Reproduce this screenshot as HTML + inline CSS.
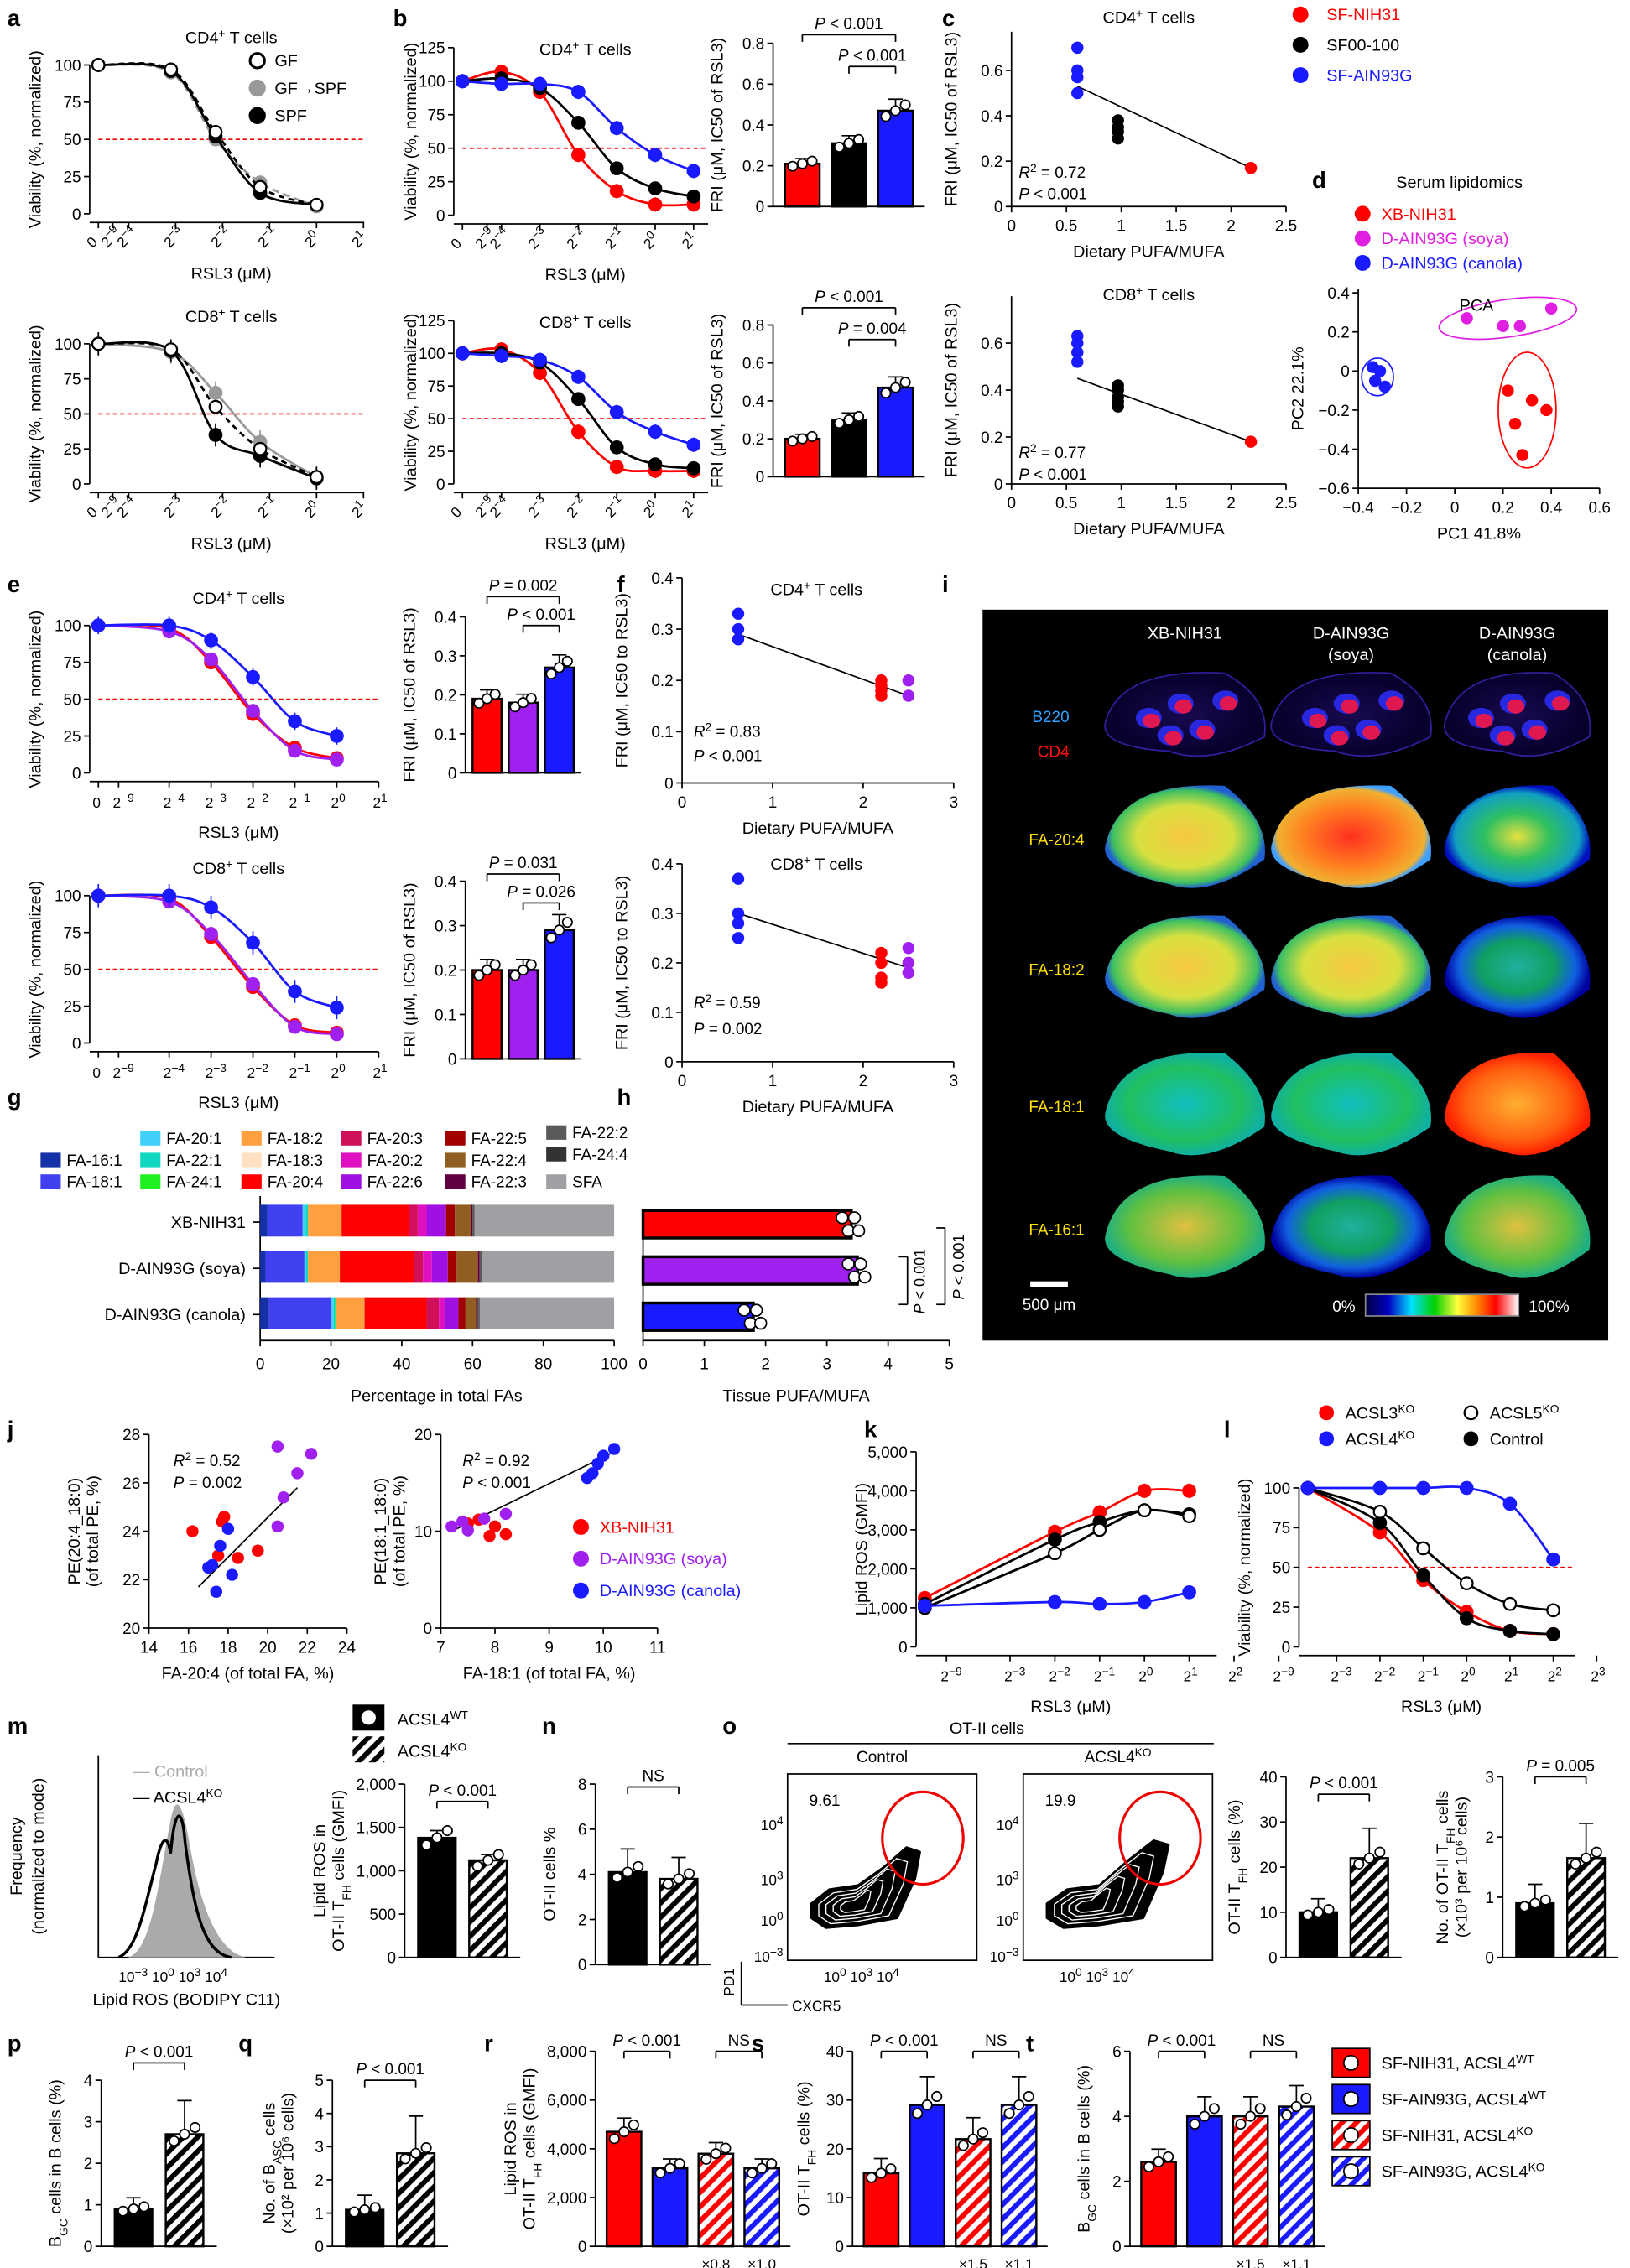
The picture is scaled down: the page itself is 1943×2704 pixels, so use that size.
<!DOCTYPE html>
<html><head><meta charset="utf-8"><title>Figure</title>
<style>
html,body{margin:0;padding:0;background:#fff;}
svg{display:block;font-family:"Liberation Sans",Arial,sans-serif;}
</style></head>
<body>
<svg id="fig" xmlns="http://www.w3.org/2000/svg" width="1943" height="2704" viewBox="0 0 1128 1570">
<defs>
<pattern id="hk" patternUnits="userSpaceOnUse" width="7" height="7" patternTransform="rotate(45)"><rect width="7" height="7" fill="#fff"/><rect width="3.5" height="7" fill="#000"/></pattern>
<pattern id="hr" patternUnits="userSpaceOnUse" width="7" height="7" patternTransform="rotate(45)"><rect width="7" height="7" fill="#fff"/><rect width="3.5" height="7" fill="#f00"/></pattern>
<pattern id="hb" patternUnits="userSpaceOnUse" width="7" height="7" patternTransform="rotate(45)"><rect width="7" height="7" fill="#fff"/><rect width="3.5" height="7" fill="#1a1aff"/></pattern>
<linearGradient id="cbar" x1="0" x2="1"><stop offset="0" stop-color="#000040"/><stop offset="0.15" stop-color="#0000c0"/><stop offset="0.3" stop-color="#00e0ff"/><stop offset="0.45" stop-color="#00d000"/><stop offset="0.6" stop-color="#ffff40"/><stop offset="0.72" stop-color="#ff9000"/><stop offset="0.85" stop-color="#ff0000"/><stop offset="1" stop-color="#ffffff"/></linearGradient>
<radialGradient id="gY"><stop offset="0" stop-color="#f7c840"/><stop offset="0.6" stop-color="#d8e040"/><stop offset="0.9" stop-color="#40c060"/><stop offset="1" stop-color="#2060d0"/></radialGradient>
<radialGradient id="gR"><stop offset="0" stop-color="#ff3020"/><stop offset="0.6" stop-color="#ff8020"/><stop offset="0.92" stop-color="#f0b030"/><stop offset="1" stop-color="#40a0ff"/></radialGradient>
<radialGradient id="gB"><stop offset="0" stop-color="#e8e040"/><stop offset="0.45" stop-color="#30c060"/><stop offset="0.85" stop-color="#10a0c0"/><stop offset="1" stop-color="#0010c0"/></radialGradient>
<radialGradient id="gB2"><stop offset="0" stop-color="#20b0a0"/><stop offset="0.5" stop-color="#10a060"/><stop offset="0.8" stop-color="#1060e0"/><stop offset="1" stop-color="#0000a0"/></radialGradient>
<radialGradient id="gG"><stop offset="0" stop-color="#10c0c0"/><stop offset="0.7" stop-color="#20c060"/><stop offset="1" stop-color="#10b0a0"/></radialGradient>
<radialGradient id="gO"><stop offset="0" stop-color="#ffb030"/><stop offset="0.7" stop-color="#ff6010"/><stop offset="1" stop-color="#ff2000"/></radialGradient>
<radialGradient id="gGY"><stop offset="0" stop-color="#e0c040"/><stop offset="0.7" stop-color="#60c040"/><stop offset="1" stop-color="#20b080"/></radialGradient>
<radialGradient id="gD"><stop offset="0" stop-color="#180a50"/><stop offset="1" stop-color="#06002a"/></radialGradient>
</defs>
</svg>
<script>
// ---------- DATA ----------
const aDose=[-99,-3.1,-2.15,-1.2,0];
const aTopGF=[100,97,55,18,6];
const aTopGFS=[100,95,50,21,5];
const aTopSPF=[100,96,52,14,6];
const aBotGF=[100,96,55,25,5];
const aBotGFS=[100,94,65,30,5];
const aBotSPF=[100,95,35,20,4];
const bDose=[-99,-4,-3,-2,-1,0,1];
const bTopRed=[100,107,92,45,18,8,8];
const bTopBlack=[100,102,95,69,35,20,14];
const bTopBlue=[100,98,98,92,65,45,33];
const bBotRed=[100,103,85,40,13,10,10];
const bBotBlack=[100,100,93,65,28,15,12];
const bBotBlue=[100,98,95,82,55,40,30];
const bBarTop=[0.21,0.31,0.47];
const bBarBot=[0.2,0.3,0.47];
const cX=[0.6,0.97,2.18];
const cTopBlue=[0.7,0.6,0.57,0.5];
const cTopBlack=[0.38,0.35,0.33,0.3];
const cTopRed=[0.17];
const cBotBlue=[0.63,0.6,0.56,0.52];
const cBotBlack=[0.42,0.4,0.37,0.35,0.33];
const cBotRed=[0.18];
const dRedX=[0.22,0.32,0.38,0.25,0.28];
const dRedY=[-0.1,-0.15,-0.2,-0.27,-0.43];
const dMagX=[0.05,0.2,0.27,0.4];
const dMagY=[0.27,0.23,0.23,0.32];
const dBlueX=[-0.34,-0.31,-0.33,-0.29];
const dBlueY=[0.02,0,-0.05,-0.08];
const eDose=[-99,-4,-3,-2,-1,0];
const eTopRed=[100,98,75,40,17,10];
const eTopPur=[100,96,77,42,15,9];
const eTopBlue=[100,100,90,65,35,25];
const eBotRed=[100,98,72,38,12,7];
const eBotPur=[100,96,74,40,11,6];
const eBotBlue=[100,100,92,68,35,24];
const eBarTop=[0.19,0.18,0.27];
const eBarBot=[0.2,0.2,0.29];
const fX=[0.62,2.2,2.5];
const fTopBlue=[0.33,0.3,0.28];
const fTopRed=[0.2,0.19,0.18,0.17];
const fTopPur=[0.2,0.17];
const fBotBlue=[0.37,0.3,0.28,0.25];
const fBotRed=[0.22,0.2,0.17,0.16];
const fBotPur=[0.23,0.2,0.18];
const gCats=['XB-NIH31','D-AIN93G (soya)','D-AIN93G (canola)'];
const gFAs=['FA-16:1','FA-18:1','FA-20:1','FA-22:1','FA-24:1','FA-18:2','FA-18:3','FA-20:4','FA-20:3','FA-20:2','FA-22:6','FA-22:5','FA-22:4','FA-22:3','FA-22:2','FA-24:4','SFA'];
const gColors=['#1431a8','#4040f0','#40d0f8','#10d8c0','#20f020','#ffa040','#ffe0c0','#ff0000','#d0105a','#e010c0','#a010e0','#a00000','#905e20','#600040','#5a5a5a','#333333','#a0a0a4'];
const gXB=[2,10,0.8,0.7,0,9.5,0,19,2.5,2.5,5.5,2.5,4.5,0.5,0.3,0.2,39.5];
const gSoya=[1.5,11,0.5,0.5,0,9,0,21,2.5,2.5,4.5,2.5,6,0.5,0.3,0.2,37.5];
const gCanola=[2.5,17.5,0.8,0.4,0.3,8,0,17.5,3.5,1.5,4,2,3,0.5,0.3,0.2,38];
const hVals=[3.4,3.5,1.8];
const jLRedX=[16.2,17.5,17.8,18.5,19.5,17.7];
const jLRedY=[24,23,24.6,22.9,23.2,24.4];
const jLPurX=[20.5,22.2,20.5,20.8,21.5];
const jLPurY=[27.5,27.2,24.2,25.4,26.4];
const jLBlueX=[17,17.2,17.6,18.2,17.4,18];
const jLBlueY=[22.5,22.6,23.4,22.2,21.5,24.1];
const jRRedX=[7.7,8,8.2,7.9,7.5];
const jRRedY=[11.2,10.5,9.7,9.5,10.8];
const jRPurX=[7.2,7.8,8.2,7.5,7.4];
const jRPurY=[10.5,11.3,11.8,10.1,11];
const jRBlueX=[9.8,9.9,10.2,10,9.7];
const jRBlueY=[16,17,18.5,17.8,15.5];
const kDose=[-99,-2,-1,0,1];
const kRed=[1250,2950,3450,4000,4000];
const kBlack=[1100,2750,3200,3500,3400];
const kWhite=[1000,2400,3000,3500,3350];
const kBlue=[1050,1150,1100,1150,1400];
const lDose=[-99,-2,-1,0,1,2];
const lRed=[100,72,42,22,10,8];
const lBlack=[100,78,45,18,10,8];
const lWhite=[100,85,62,40,27,23];
const lBlue=[100,100,100,100,90,55];
const mBar=[1380,1120];
const nBar=[4.1,3.8];
const oBar1=[10,22];
const oBar2=[0.9,1.65];
const pBar=[0.9,2.7];
const qBar=[1.1,2.8];
const rBar=[4700,3200,3800,3200];
const sBar=[15,29,22,29];
const tBar=[2.6,4.0,4.0,4.3];

// ---------- HELPERS ----------
const NS='http://www.w3.org/2000/svg';
const svg=document.getElementById('fig');
function el(tag,attrs,name,parent,txt){
  const e=document.createElementNS(NS,tag);
  for(const k in attrs) e.setAttribute(k,attrs[k]);
  
  
  if(txt!==undefined){ if(String(txt).indexOf('<')>=0) e.innerHTML=txt; else e.textContent=txt; }
  (parent||svg).appendChild(e); return e;
}
function T(x,y,s,name,o){o=o||{};const a={x:x,y:y,'font-size':o.fs||11,fill:o.fill||'#000'};
  if(o.anchor)a['text-anchor']=o.anchor; if(o.bold)a['font-weight']='bold'; if(o.rot)a.transform='rotate('+o.rot+' '+x+' '+y+')';
  return el('text',a,name,null,s);}
function L(x1,y1,x2,y2,name,o){o=o||{};return el('line',{x1:x1,y1:y1,x2:x2,y2:y2,stroke:o.c||'#000','stroke-width':o.w||1,'stroke-dasharray':o.d||'none'},name);}
function sup(b,e){return b+'<tspan baseline-shift="super" font-size="8">'+e+'</tspan>';}
function smooth(pts){let d='M'+pts[0][0]+','+pts[0][1];
  for(let i=0;i<pts.length-1;i++){const p0=pts[i-1]||pts[i],p1=pts[i],p2=pts[i+1],p3=pts[i+2]||p2;
    d+=' C'+(p1[0]+(p2[0]-p0[0])/6)+','+(p1[1]+(p2[1]-p0[1])/6)+' '+(p2[0]-(p3[0]-p1[0])/6)+','+(p2[1]-(p3[1]-p1[1])/6)+' '+p2[0]+','+p2[1];}
  return d;}
function letter(s,x,y){T(x,y,s,'panel-label-'+s,{fs:16,bold:true});}

function curve(c){
  const px=v=>v<-50?c.x0:(v<=-9?c.xm9:(v<=-4?c.xm9+(v+9)/5*(c.xm4-c.xm9):c.xm4+(v+4)*c.step));
  const py=v=>c.yb-(v/c.ymax)*(c.yb-c.yt);
  L(c.x0-6,c.yb,c.x0-6,c.yt,c.n+'-y-axis');
  c.yticks.forEach(t=>{L(c.x0-10,py(t),c.x0-6,py(t),c.n+'-y-tick');T(c.x0-12,py(t)+4,t.toLocaleString('en-US'),c.n+'-y-tick-label',{anchor:'end'});});
  L(c.x0-6,c.yb+6,c.x1,c.yb+6,c.n+'-x-axis');
  c.xticks.forEach(t=>{const x=px(t);L(x,c.yb+6,x,c.yb+10,c.n+'-x-tick');
    const lab=t<-50?'0':sup('2',t>=0?t:'−'+(-t));
    T(x-4,c.yb+24,lab,c.n+'-x-tick-label',{fs:10,rot:c.rot||0});});
  if(c.ref) L(c.x0,py(50),c.x1,py(50),c.n+'-threshold-50',{c:'#e00',d:'3,2'});
  c.series.forEach(s=>{
    const pts=c.dose.map((d,i)=>[px(d),py(s.v[i])]);
    el('path',{d:smooth(pts),fill:'none',stroke:s.lc||s.c,'stroke-width':1.6,'stroke-dasharray':s.d||'none'},c.n+'-fit-'+s.k);
    pts.forEach(p=>{if(s.e)L(p[0],p[1]-s.e,p[0],p[1]+s.e,c.n+'-error-bar',{c:s.c});
      el('circle',{cx:p[0],cy:p[1],r:4.2,fill:s.f||s.c,stroke:s.c,'stroke-width':1.3},c.n+'-point-'+s.k);});
  });
  T((c.x0+c.x1)/2,c.yb+45,c.xt,c.n+'-x-title',{anchor:'middle',fs:11.5});
  T(c.x0-(c.yo||40),(c.yt+c.yb)/2,c.yt2||'Viability (%, normalized)',c.n+'-y-title',{anchor:'middle',fs:11.5,rot:-90});
  if(c.title)T((c.x0+c.x1)/2,c.yt-(c.tg||15),c.title,c.n+'-title',{anchor:'middle',fs:11.5});
}
function bars(c){
  const sy=v=>c.yb-(v/c.max)*(c.yb-c.yt);
  L(c.x,c.yb,c.x,c.yt,c.n+'-y-axis');
  c.ticks.forEach(t=>{L(c.x-4,sy(t),c.x,sy(t),c.n+'-y-tick');T(c.x-6,sy(t)+4,c.tl?c.tl(t):t.toLocaleString('en-US'),c.n+'-y-tick-label',{anchor:'end'});});
  L(c.x,c.yb,c.x+c.w,c.yb,c.n+'-x-axis');
  const n=c.vals.length,bw=c.bw,gap=(c.w-n*bw)/(n+1);
  const cx=[];
  c.vals.forEach((v,i)=>{const bx=c.x+gap+(bw+gap)*i;cx.push(bx+bw/2);
    el('rect',{x:bx,y:sy(v),width:bw,height:c.yb-sy(v),fill:c.fills[i],stroke:'#000','stroke-width':1.4},c.n+'-bar-'+i);
    const e=v*(c.err||0.12);
    L(bx+bw/2,sy(v),bx+bw/2,sy(v+e),c.n+'-error-bar');L(bx+bw/2-5,sy(v+e),bx+bw/2+5,sy(v+e),c.n+'-error-cap');
    [-0.28,0,0.28].forEach((o,j)=>el('circle',{cx:bx+bw/2+o*bw,cy:sy(v*(1-0.06+j*0.06)),r:3.3,fill:'#fff',stroke:'#000','stroke-width':1},c.n+'-point'));
  });
  (c.sig||[]).forEach(s=>{const y=s[2];L(cx[s[0]],y+5,cx[s[0]],y,c.n+'-sig-bracket');L(cx[s[0]],y,cx[s[1]],y,c.n+'-sig-bracket');L(cx[s[1]],y,cx[s[1]],y+5,c.n+'-sig-bracket');
    T((cx[s[0]]+cx[s[1]])/2,y-4,s[3],c.n+'-sig-label',{anchor:'middle'});});
  (c.yl||[]).forEach((s,i)=>T(c.x-c.yo+i*13,(c.yt+c.yb)/2,s,c.n+'-y-title',{anchor:'middle',fs:11.5,rot:-90}));
  (c.xl||[]).forEach((s,i)=>T(c.x+gap+bw/2+(bw+gap)*(i+2),c.yb+16,s,c.n+'-x-note',{anchor:'middle',fs:10}));
}
function scat(c){
  const sx=v=>c.x0+(v-c.xmin)/(c.xmax-c.xmin)*(c.x1-c.x0);
  const sy=v=>c.yb-(v-c.ymin)/(c.ymax-c.ymin)*(c.yb-c.yt);
  L(c.x0,c.yb,c.x0,c.yt,c.n+'-y-axis');L(c.x0,c.yb,c.x1,c.yb,c.n+'-x-axis');
  c.yticks.forEach(t=>{L(c.x0-4,sy(t),c.x0,sy(t),c.n+'-y-tick');T(c.x0-6,sy(t)+4,String(t).replace('-','−'),c.n+'-y-tick-label',{anchor:'end'});});
  c.xticks.forEach(t=>{L(sx(t),c.yb,sx(t),c.yb+4,c.n+'-x-tick');T(sx(t),c.yb+17,String(t).replace('-','−'),c.n+'-x-tick-label',{anchor:'middle'});});
  if(c.line)L(sx(c.line[0]),sy(c.line[1]),sx(c.line[2]),sy(c.line[3]),c.n+'-regression-line');
  c.groups.forEach(g=>g.xs.forEach((x,i)=>el('circle',{cx:sx(x),cy:sy(g.ys[i]),r:4.2,fill:g.c},c.n+'-point-'+g.k)));
  if(c.xt)T((c.x0+c.x1)/2,c.yb+35,c.xt,c.n+'-x-title',{anchor:'middle',fs:11.5});
  (c.ytl||[]).forEach((s,i)=>T(c.x0-c.yo+i*13,(c.yt+c.yb)/2,s,c.n+'-y-title',{anchor:'middle',fs:11.5,rot:-90}));
  return {sx:sx,sy:sy};
}
const RED='#ff0000',BLU='#1a1aff',PUR='#a020f0',BLK='#000';

// ---------- PANEL a ----------
letter('a',5,18);letter('b',272,18);letter('c',652,18);letter('d',908,130);
const aTicks=[-99,-9,-4,-3,-2,-1,0,1];
curve({n:'a-top',x0:68,x1:252,xm9:78,xm4:89,step:32.5,yt:45,yb:148,ymax:100,yticks:[0,25,50,75,100],xticks:aTicks,rot:-45,dose:aDose,ref:true,
  series:[{k:'gf-spf',v:aTopGFS,c:'#999',lc:'#999',d:'5,3'},{k:'spf',v:aTopSPF,c:BLK},{k:'gf',v:aTopGF,c:BLK,f:'#fff',d:'4,3'}],xt:'RSL3 (μM)',title:sup('CD4','+')+' T cells'});
curve({n:'a-bottom',x0:68,x1:252,xm9:78,xm4:89,step:32.5,yt:238,yb:335,ymax:100,yticks:[0,25,50,75,100],xticks:aTicks,rot:-45,dose:aDose,ref:true,
  series:[{k:'gf-spf',v:aBotGFS,c:'#999',lc:'#999',e:8},{k:'spf',v:aBotSPF,c:BLK,e:8},{k:'gf',v:aBotGF,c:BLK,f:'#fff',d:'4,3'}],xt:'RSL3 (μM)',title:sup('CD8','+')+' T cells'});
[['GF','#fff',BLK],['GF→SPF','#999','#999'],['SPF',BLK,BLK]].forEach((g,i)=>{el('circle',{cx:178,cy:42+i*19,r:5,fill:g[1],stroke:g[2],'stroke-width':1.8},'a-legend-marker');T(190,46+i*19,g[0],'a-legend-label',{fs:11.5});});

// ---------- PANEL b ----------
const bTicks=[-99,-9,-4,-3,-2,-1,0,1];
curve({n:'b-top',x0:320,x1:490,xm9:337,xm4:347,step:26.6,yt:33,yb:149,ymax:125,yticks:[0,25,50,75,100,125],xticks:bTicks,rot:-45,dose:bDose,ref:true,yo:32,tg:-5,
  series:[{k:'red',v:bTopRed,c:RED,e:5},{k:'black',v:bTopBlack,c:BLK,e:4},{k:'blue',v:bTopBlue,c:BLU,e:5}],xt:'RSL3 (μM)',title:sup('CD4','+')+' T cells'});
curve({n:'b-bottom',x0:320,x1:490,xm9:337,xm4:347,step:26.6,yt:222,yb:335,ymax:125,yticks:[0,25,50,75,100,125],xticks:bTicks,rot:-45,dose:bDose,ref:true,yo:32,tg:-5,
  series:[{k:'red',v:bBotRed,c:RED,e:5},{k:'black',v:bBotBlack,c:BLK,e:4},{k:'blue',v:bBotBlue,c:BLU,e:5}],xt:'RSL3 (μM)',title:sup('CD8','+')+' T cells'});
bars({n:'b-bar-top',x:535,w:105,yt:30,yb:143,max:0.8,ticks:[0,0.2,0.4,0.6,0.8],tl:t=>t===0?'0':t.toFixed(1),vals:bBarTop,fills:[RED,BLK,BLU],bw:24,
  sig:[[0,2,24,'<tspan font-style="italic">P</tspan> &lt; 0.001'],[1,2,46,'<tspan font-style="italic">P</tspan> &lt; 0.001']],yl:['FRI (μM, IC50 of RSL3)'],yo:35});
bars({n:'b-bar-bottom',x:535,w:105,yt:225,yb:330,max:0.8,ticks:[0,0.2,0.4,0.6,0.8],tl:t=>t===0?'0':t.toFixed(1),vals:bBarBot,fills:[RED,BLK,BLU],bw:24,
  sig:[[0,2,213,'<tspan font-style="italic">P</tspan> &lt; 0.001'],[1,2,235,'<tspan font-style="italic">P</tspan> = 0.004']],yl:['FRI (μM, IC50 of RSL3)'],yo:35});

// ---------- PANEL c ----------
function cGroups(b,k,r){return [{k:'blue',xs:b.map(()=>cX[0]),ys:b,c:BLU},{k:'black',xs:k.map(()=>cX[1]),ys:k,c:BLK},{k:'red',xs:r.map(()=>cX[2]),ys:r,c:RED}];}
scat({n:'c-top',x0:700,x1:890,xmin:0,xmax:2.5,yt:22,yb:143,ymin:0,ymax:0.77,yticks:[0,0.2,0.4,0.6],xticks:[0,0.5,1,1.5,2,2.5],groups:cGroups(cTopBlue,cTopBlack,cTopRed),line:[0.6,0.53,2.18,0.17],xt:'Dietary PUFA/MUFA',ytl:['FRI (μM, IC50 of RSL3)'],yo:38});
scat({n:'c-bottom',x0:700,x1:890,xmin:0,xmax:2.5,yt:205,yb:335,ymin:0,ymax:0.8,yticks:[0,0.2,0.4,0.6],xticks:[0,0.5,1,1.5,2,2.5],groups:cGroups(cBotBlue,cBotBlack,cBotRed),line:[0.6,0.45,2.18,0.18],xt:'Dietary PUFA/MUFA',ytl:['FRI (μM, IC50 of RSL3)'],yo:38});
T(795,16,sup('CD4','+')+' T cells','c-top-title',{anchor:'middle',fs:11.5});T(795,208,sup('CD8','+')+' T cells','c-bottom-title',{anchor:'middle',fs:11.5});
T(705,123,sup('<tspan font-style="italic">R</tspan>','2')+' = 0.72','c-top-r2');T(705,138,'<tspan font-style="italic">P</tspan> &lt; 0.001','c-top-p');
T(705,317,sup('<tspan font-style="italic">R</tspan>','2')+' = 0.77','c-bottom-r2');T(705,332,'<tspan font-style="italic">P</tspan> &lt; 0.001','c-bottom-p');
[['SF-NIH31',RED],['SF00-100',BLK],['SF-AIN93G',BLU]].forEach((g,i)=>{el('circle',{cx:900,cy:10+i*21,r:5.5,fill:g[1]},'c-legend-marker');T(918,14+i*21,g[0],'c-legend-label',{fs:11.5,fill:g[1]});});

// ---------- PANEL d ----------
T(1010,130,'Serum lipidomics','d-title',{anchor:'middle',fs:11.5});
[['XB-NIH31',RED],['D-AIN93G (soya)','#e020e0'],['D-AIN93G (canola)',BLU]].forEach((g,i)=>{el('circle',{cx:943,cy:148+i*17,r:5.5,fill:g[1]},'d-legend-marker');T(956,152+i*17,g[0],'d-legend-label',{fs:11.5,fill:g[1]});});
const dS=scat({n:'d-pca',x0:940,x1:1107,xmin:-0.4,xmax:0.6,yt:200,yb:338,ymin:-0.6,ymax:0.42,yticks:[-0.6,-0.4,-0.2,0,0.2,0.4],xticks:[-0.4,-0.2,0,0.2,0.4,0.6],
  groups:[{k:'red',xs:dRedX,ys:dRedY,c:RED},{k:'magenta',xs:dMagX,ys:dMagY,c:'#e020e0'},{k:'blue',xs:dBlueX,ys:dBlueY,c:BLU}],xt:'PC1 41.8%',ytl:['PC2 22.1%'],yo:38});
el('ellipse',{cx:dS.sx(-0.32),cy:dS.sy(-0.03),rx:11,ry:13,fill:'none',stroke:BLU},'d-cluster-canola');
el('ellipse',{cx:dS.sx(0.22),cy:dS.sy(0.27),rx:48,ry:13,fill:'none',stroke:'#e020e0',transform:'rotate(-8 '+dS.sx(0.22)+' '+dS.sy(0.27)+')'},'d-cluster-soya');
el('ellipse',{cx:dS.sx(0.3),cy:dS.sy(-0.2),rx:20,ry:40,fill:'none',stroke:RED},'d-cluster-nih31');
T(1010,215,'PCA','d-pca-label',{fs:11.5});

// ---------- PANEL e ----------
letter('e',5,410);letter('f',427,410);letter('i',652,410);
const eTicks=[-99,-9,-4,-3,-2,-1,0,1];
curve({n:'e-top',x0:68,x1:262,xm9:82,xm4:117,step:29,yt:433,yb:535,ymax:100,yticks:[0,25,50,75,100],xticks:eTicks,dose:eDose,ref:true,
  series:[{k:'red',v:eTopRed,c:RED,e:4},{k:'purple',v:eTopPur,c:PUR,e:4},{k:'blue',v:eTopBlue,c:BLU,e:6}],xt:'RSL3 (μM)',title:sup('CD4','+')+' T cells'});
curve({n:'e-bottom',x0:68,x1:262,xm9:82,xm4:117,step:29,yt:620,yb:722,ymax:100,yticks:[0,25,50,75,100],xticks:eTicks,dose:eDose,ref:true,
  series:[{k:'red',v:eBotRed,c:RED,e:4},{k:'purple',v:eBotPur,c:PUR,e:4},{k:'blue',v:eBotBlue,c:BLU,e:8}],xt:'RSL3 (μM)',title:sup('CD8','+')+' T cells'});
bars({n:'e-bar-top',x:322,w:80,yt:427,yb:535,max:0.4,ticks:[0,0.1,0.2,0.3,0.4],tl:t=>t===0?'0':t.toFixed(1),vals:eBarTop,fills:[RED,PUR,BLU],bw:20,
  sig:[[0,2,413,'<tspan font-style="italic">P</tspan> = 0.002'],[1,2,433,'<tspan font-style="italic">P</tspan> &lt; 0.001']],yl:['FRI (μM, IC50 of RSL3)'],yo:35});
bars({n:'e-bar-bottom',x:322,w:80,yt:610,yb:733,max:0.4,ticks:[0,0.1,0.2,0.3,0.4],tl:t=>t===0?'0':t.toFixed(1),vals:eBarBot,fills:[RED,PUR,BLU],bw:20,
  sig:[[0,2,605,'<tspan font-style="italic">P</tspan> = 0.031'],[1,2,625,'<tspan font-style="italic">P</tspan> = 0.026']],yl:['FRI (μM, IC50 of RSL3)'],yo:35});

// ---------- PANEL f ----------
function fG(b,r,p){return [{k:'blue',xs:b.map(()=>fX[0]),ys:b,c:BLU},{k:'red',xs:r.map(()=>fX[1]),ys:r,c:RED},{k:'purple',xs:p.map(()=>fX[2]),ys:p,c:PUR}];}
scat({n:'f-top',x0:472,x1:660,xmin:0,xmax:3,yt:400,yb:542,ymin:0,ymax:0.4,yticks:[0,0.1,0.2,0.3,0.4],xticks:[0,1,2,3],groups:fG(fTopBlue,fTopRed,fTopPur),line:[0.62,0.29,2.5,0.17],xt:'Dietary PUFA/MUFA',ytl:['FRI (μM, IC50 to RSL3)'],yo:38});
scat({n:'f-bottom',x0:472,x1:660,xmin:0,xmax:3,yt:598,yb:735,ymin:0,ymax:0.4,yticks:[0,0.1,0.2,0.3,0.4],xticks:[0,1,2,3],groups:fG(fBotBlue,fBotRed,fBotPur),line:[0.62,0.3,2.5,0.19],xt:'Dietary PUFA/MUFA',ytl:['FRI (μM, IC50 to RSL3)'],yo:38});
T(565,412,sup('CD4','+')+' T cells','f-top-title',{anchor:'middle',fs:11.5});T(565,602,sup('CD8','+')+' T cells','f-bottom-title',{anchor:'middle',fs:11.5});
T(480,510,sup('<tspan font-style="italic">R</tspan>','2')+' = 0.83','f-top-r2');T(480,527,'<tspan font-style="italic">P</tspan> &lt; 0.001','f-top-p');
T(480,698,sup('<tspan font-style="italic">R</tspan>','2')+' = 0.59','f-bottom-r2');T(480,716,'<tspan font-style="italic">P</tspan> = 0.002','f-bottom-p');

// ---------- PANEL i ----------
el('rect',{x:680,y:422,width:433,height:506,fill:'#000'},'i-imaging-background');
[['XB-NIH31',820],['D-AIN93G',935],['D-AIN93G',1050]].forEach((c,i)=>T(c[1],442,c[0],'i-column-header',{anchor:'middle',fill:'#fff',fs:11.5}));
T(935,457,'(soya)','i-column-header-sub',{anchor:'middle',fill:'#fff',fs:11.5});T(1050,457,'(canola)','i-column-header-sub',{anchor:'middle',fill:'#fff',fs:11.5});
T(740,500,'B220','i-label-b220',{anchor:'end',fill:'#30a0ff',fs:11});
T(740,524,'CD4','i-label-cd4',{anchor:'end',fill:'#ff1010',fs:11});
const iRows=['','FA-20:4','FA-18:2','FA-18:1','FA-16:1'];
const iFills=[['gD','gD','gD'],['gY','gR','gB'],['gY','gY','gB2'],['gG','gG','gO'],['gGY','gB2','gGY']];
const iRowY=[495,580,670,765,850];
iRows.forEach((r,ri)=>{if(r)T(712,iRowY[ri]+5,r,'i-row-label',{fill:'#ffe000',fs:11});
  [820,935,1050].forEach((cx,ci)=>{const rx=ci===2?50:55,ry=ri===0?33:40;const cy=iRowY[ri];
    el('path',{d:'M'+(cx-rx)+','+(cy+5)+' Q'+(cx-rx+10)+','+(cy-ry)+' '+(cx+rx*0.5)+','+(cy-ry+4)+' Q'+(cx+rx+4)+','+(cy-12)+' '+(cx+rx)+','+(cy+15)+' Q'+(cx+rx*0.3)+','+(cy+ry+2)+' '+(cx-rx*0.2)+','+(cy+ry-8)+' Q'+(cx-rx-4)+','+(cy+22)+' '+(cx-rx)+','+(cy+5)+'Z',fill:'url(#'+iFills[ri][ci]+')',stroke:ri===0?'#3020a0':'none'},'i-tissue-section');
    if(ri===0){[[-25,2],[-3,-8],[12,10],[-10,14],[28,-10]].forEach(o=>{el('ellipse',{cx:cx+o[0],cy:cy+o[1],rx:9,ry:7,fill:'#2828e0'},'i-b220-region');el('ellipse',{cx:cx+o[0]+2,cy:cy+o[1]+2,rx:6,ry:5,fill:'#e01850'},'i-cd4-region');});}
  });});
el('rect',{x:713,y:887,width:26,height:4,fill:'#fff'},'i-scale-bar');T(726,907,'500 μm','i-scale-label',{anchor:'middle',fill:'#fff',fs:11});
el('rect',{x:945,y:896,width:106,height:15,fill:'url(#cbar)',stroke:'#888'},'i-colorbar');
T(938,908,'0%','i-colorbar-min',{anchor:'end',fill:'#fff',fs:11});T(1058,908,'100%','i-colorbar-max',{fill:'#fff',fs:11});

// ---------- PANEL g ----------
letter('g',5,765);letter('h',427,765);
const legCol=[28,97,167,236,308,378];
const legRow=[788,803,818];
const gLeg=[['FA-16:1',0,0,1],['FA-18:1',1,0,2],['FA-20:1',2,1,0],['FA-22:1',3,1,1],['FA-24:1',4,1,2],['FA-18:2',5,2,0],['FA-18:3',6,2,1],['FA-20:4',7,2,2],['FA-20:3',8,3,0],['FA-20:2',9,3,1],['FA-22:6',10,3,2],['FA-22:5',11,4,0],['FA-22:4',12,4,1],['FA-22:3',13,4,2],['FA-22:2',14,5,0],['FA-24:4',15,5,1],['SFA',16,5,2]];
gLeg.forEach(l=>{const x=legCol[l[2]],y=legRow[l[3]]-(l[2]===5&&l[3]<2?4:0);
  el('rect',{x:x,y:y-5,width:14,height:10,fill:gColors[l[1]]},'g-legend-swatch');T(x+18,y+4,l[0],'g-legend-label',{fs:11});});
const gx0=180,gx1=425,gsx=v=>gx0+v/100*(gx1-gx0);
L(gx0,828,gx0,928,'g-y-axis');L(gx0,928,gx1,928,'g-x-axis');
[0,20,40,60,80,100].forEach(t=>{L(gsx(t),928,gsx(t),932,'g-x-tick');T(gsx(t),948,t,'g-x-tick-label',{anchor:'middle',fs:11});});
T(302,970,'Percentage in total FAs','g-x-title',{anchor:'middle',fs:11.5});
[gXB,gSoya,gCanola].forEach((row,ri)=>{let acc=0;const y=834+ri*32;
  T(170,y+16,gCats[ri],'g-category-label',{anchor:'end',fs:11.5});L(175,y+12,180,y+12,'g-y-tick');
  row.forEach((v,si)=>{el('rect',{x:gsx(acc),y:y,width:Math.max(0,gsx(acc+v)-gsx(acc)),height:22,fill:gColors[si]},'g-segment-'+gFAs[si].toLowerCase().replace(':','-'));acc+=v;});});

// ---------- PANEL h ----------
const hx0=445,hx1=657,hsx=v=>hx0+v/5*(hx1-hx0);
L(hx0,838,hx0,928,'h-y-axis');L(hx0,928,hx1,928,'h-x-axis');
[0,1,2,3,4,5].forEach(t=>{L(hsx(t),928,hsx(t),932,'h-x-tick');T(hsx(t),948,t,'h-x-tick-label',{anchor:'middle',fs:11});});
T(551,970,'Tissue PUFA/MUFA','h-x-title',{anchor:'middle',fs:11.5});
hVals.forEach((v,i)=>{const y=838+i*32;el('rect',{x:hx0,y:y,width:hsx(v)-hx0,height:19,fill:[RED,PUR,BLU][i],stroke:'#000','stroke-width':2},'h-bar-'+i);
  [-0.15,-0.05,0.05,0.12].forEach((o,j)=>el('circle',{cx:hsx(v+o),cy:y+5+(j%2)*9,r:4,fill:'#fff',stroke:'#000'},'h-point'));});
L(622,870,628,870,'h-sig-bracket');L(628,870,628,903,'h-sig-bracket');L(622,903,628,903,'h-sig-bracket');
L(648,850,654,850,'h-sig-bracket');L(654,850,654,903,'h-sig-bracket');L(648,903,654,903,'h-sig-bracket');
T(640,887,'<tspan font-style="italic">P</tspan> &lt; 0.001','h-sig-label',{rot:-90,anchor:'middle',fs:10.5});
T(667,877,'<tspan font-style="italic">P</tspan> &lt; 0.001','h-sig-label',{rot:-90,anchor:'middle',fs:10.5});

// ---------- PANEL j ----------
letter('j',5,995);letter('k',598,995);letter('l',847,995);
scat({n:'j-left',x0:103,x1:240,xmin:14,xmax:24,yt:993,yb:1127,ymin:20,ymax:28,yticks:[20,22,24,26,28],xticks:[14,16,18,20,22,24],
  groups:[{k:'red',xs:jLRedX,ys:jLRedY,c:RED},{k:'purple',xs:jLPurX,ys:jLPurY,c:PUR},{k:'blue',xs:jLBlueX,ys:jLBlueY,c:BLU}],line:[16.5,21.7,21.5,25.8],xt:'FA-20:4 (of total FA, %)',ytl:['PE(20:4_18:0)','(of total PE, %)'],yo:48});
scat({n:'j-right',x0:305,x1:455,xmin:7,xmax:11,yt:993,yb:1127,ymin:0,ymax:20,yticks:[0,10,20],xticks:[7,8,9,10,11],
  groups:[{k:'red',xs:jRRedX,ys:jRRedY,c:RED},{k:'purple',xs:jRPurX,ys:jRPurY,c:PUR},{k:'blue',xs:jRBlueX,ys:jRBlueY,c:BLU}],line:[7.2,10,10.2,18.2],xt:'FA-18:1 (of total FA, %)',ytl:['PE(18:1_18:0)','(of total PE, %)'],yo:38});
T(120,1015,sup('<tspan font-style="italic">R</tspan>','2')+' = 0.52','j-left-r2');T(120,1030,'<tspan font-style="italic">P</tspan> = 0.002','j-left-p');
T(320,1015,sup('<tspan font-style="italic">R</tspan>','2')+' = 0.92','j-right-r2');T(320,1030,'<tspan font-style="italic">P</tspan> &lt; 0.001','j-right-p');
[['XB-NIH31',RED],['D-AIN93G (soya)',PUR],['D-AIN93G (canola)',BLU]].forEach((g,i)=>{el('circle',{cx:402,cy:1057+i*22,r:5.5,fill:g[1]},'j-legend-marker');T(415,1061+i*22,g[0],'j-legend-label',{fs:11.5,fill:g[1]});});

// ---------- PANEL k ----------
curve({n:'k',x0:640,x1:842,xm9:655,xm4:668,step:31,yt:1005,yb:1140,ymax:5000,yticks:[0,1000,2000,3000,4000,5000],xticks:[-9,-3,-2,-1,0,1,2],dose:kDose,
  series:[{k:'red',v:kRed,c:RED,e:5},{k:'black',v:kBlack,c:BLK},{k:'acsl5',v:kWhite,c:BLK,f:'#fff'},{k:'blue',v:kBlue,c:BLU,lc:BLU}],xt:'RSL3 (μM)',yt2:'Lipid ROS (GMFI)'});
// ---------- PANEL l ----------
curve({n:'l',x0:905,x1:1090,xm9:885,xm4:895,step:30,yt:1030,yb:1140,ymax:100,yticks:[0,25,50,75,100],xticks:[-9,-3,-2,-1,0,1,2,3],dose:lDose,ref:true,
  series:[{k:'red',v:lRed,c:RED},{k:'black',v:lBlack,c:BLK},{k:'acsl5',v:lWhite,c:BLK,f:'#fff'},{k:'blue',v:lBlue,c:BLU}],xt:'RSL3 (μM)'});
[['ACSL3<tspan baseline-shift="super" font-size="8">KO</tspan>',RED,RED,918,982],['ACSL4<tspan baseline-shift="super" font-size="8">KO</tspan>',BLU,BLU,918,1000],['ACSL5<tspan baseline-shift="super" font-size="8">KO</tspan>','#fff',BLK,1018,982],['Control',BLK,BLK,1018,1000]].forEach(g=>{
  el('circle',{cx:g[3],cy:g[4]-4,r:4.5,fill:g[1],stroke:g[2],'stroke-width':1.3},'l-legend-marker');T(g[3]+13,g[4],g[0],'l-legend-label',{fs:11.5});});

// ---------- PANEL m ----------
letter('m',5,1200);letter('n',375,1200);letter('o',500,1200);
L(68,1215,68,1355,'m-y-axis');L(68,1355,190,1355,'m-x-axis');
el('path',{d:'M88,1355 C105,1352 110,1300 118,1260 C122,1240 126,1250 130,1270 C135,1300 145,1350 170,1355Z',fill:'#aaa'},'m-histogram-control');
el('path',{d:'M82,1355 C95,1350 100,1320 108,1290 C112,1270 116,1270 118,1283 C121,1250 126,1250 128,1275 C134,1320 140,1352 160,1355',fill:'none',stroke:'#000','stroke-width':2},'m-histogram-acsl4ko');
T(92,1230,'— Control','m-legend-control',{fill:'#aaa',fs:11.5});T(92,1248,'— ACSL4'+'<tspan baseline-shift="super" font-size="8">KO</tspan>','m-legend-ko',{fs:11.5});
T(129,1388,'Lipid ROS (BODIPY C11)','m-x-title',{anchor:'middle',fs:11.5});
T(82,1372,sup('10','−3')+'  '+sup('10','0')+'   '+sup('10','3')+'        '+sup('10','4'),'m-x-tick-labels',{fs:10});
T(15,1285,'Frequency','m-y-title',{rot:-90,anchor:'middle',fs:11.5});T(30,1285,'(normalized to mode)','m-y-title',{rot:-90,anchor:'middle',fs:11.5});
el('rect',{x:244,y:1180,width:22,height:18,fill:'#000'},'m-legend-wt-swatch');el('circle',{cx:255,cy:1189,r:5,fill:'#fff'},'m-legend-wt-dot');T(275,1194,'ACSL4'+'<tspan baseline-shift="super" font-size="8">WT</tspan>','m-legend-wt',{fs:11.5});
el('rect',{x:244,y:1202,width:22,height:18,fill:'url(#hk)'},'m-legend-ko-swatch');T(275,1216,'ACSL4'+'<tspan baseline-shift="super" font-size="8">KO</tspan>','m-legend-ko',{fs:11.5});
bars({n:'m-bar',x:280,w:80,yt:1235,yb:1355,max:2000,ticks:[0,500,1000,1500,2000],vals:mBar,fills:[BLK,'url(#hk)'],bw:26,err:0.06,sig:[[0,1,1247,'<tspan font-style="italic">P</tspan> &lt; 0.001']],yl:['Lipid ROS in','OT-II T'+'<tspan baseline-shift="sub" font-size="8">FH</tspan>'+' cells (GMFI)'],yo:55});
bars({n:'n-bar',x:412,w:80,yt:1235,yb:1360,max:8,ticks:[0,2,4,6,8],vals:nBar,fills:[BLK,'url(#hk)'],bw:26,err:0.25,sig:[[0,1,1237,'NS']],yl:['OT-II cells %'],yo:28});

// ---------- PANEL o ----------
T(683,1200,'OT-II cells','o-title',{anchor:'middle',fs:11.5});L(545,1207,840,1207,'o-title-rule');
const zx=(x,off)=>(850+x/2.6)/1.7225+off, zy=y=>(2040+y/3)/1.7225;
const blobPts=[[305,690],[360,640],[450,625],[530,560],[600,490],[640,505],[625,600],[570,740],[450,765],[350,775],[305,740]];
[[0,'Control','9.61',0],[1,'ACSL4<tspan baseline-shift="super" font-size="8">KO</tspan>','19.9',(1219-938)/1.7225]].forEach(p=>{
  const off=p[3],bx0=545+off,bx1=676+off;
  T((bx0+bx1)/2,1220,p[1],'o-plot-title',{anchor:'middle',fs:11});
  el('rect',{x:bx0,y:1228,width:bx1-bx0,height:129,fill:'none',stroke:'#000'},'o-plot-frame');
  const sc=p[0]===1?1.12:1;
  const pts=blobPts.map(q=>[zx(305+(q[0]-305)*sc,off),zy(q[1]-(p[0]===1?(q[1]<620?25:0):0))]);
  el('path',{d:'M'+pts.map(q=>q[0].toFixed(1)+','+q[1].toFixed(1)).join(' L')+'Z',fill:'#000',stroke:'#000','stroke-width':2,'stroke-linejoin':'round'},'o-contour-density');
  for(let k=1;k<5;k++){const c=pts.map(q=>{const cx=zx(430,off),cy=zy(700);return [cx+(q[0]-cx)*(1-k*0.18),cy+(q[1]-cy)*(1-k*0.18)];});
    el('path',{d:'M'+c.map(q=>q[0].toFixed(1)+','+q[1].toFixed(1)).join(' L')+'Z',fill:'none',stroke:'#fff','stroke-width':0.8},'o-contour-line');}
  el('ellipse',{cx:zx(p[0]===1?1385-730:650,off),cy:zy(455),rx:28,ry:32,fill:'none',stroke:'#e00','stroke-width':1.8},'o-gate');
  T(bx0+15,1250,p[2],'o-gate-percent',{fs:11});
  T(bx0-3,1267,sup('10','4'),'o-y-tick',{fs:10,anchor:'end'});T(bx0-3,1305,sup('10','3'),'o-y-tick',{fs:10,anchor:'end'});T(bx0-3,1333,sup('10','0'),'o-y-tick',{fs:10,anchor:'end'});T(bx0-3,1358,sup('10','−3'),'o-y-tick',{fs:10,anchor:'end'});
  T(bx0+25,1372,sup('10','0')+'  '+sup('10','3')+'   '+sup('10','4'),'o-x-ticks',{fs:10});
});
L(513,1388,513,1358,'o-pd1-arrow');L(513,1388,545,1388,'o-cxcr5-arrow');T(508,1372,'PD1','o-y-title',{rot:-90,fs:10,anchor:'middle'});T(548,1392,'CXCR5','o-x-title',{fs:10});
bars({n:'o-bar-tfh',x:890,w:80,yt:1230,yb:1355,max:40,ticks:[0,10,20,30,40],vals:oBar1,fills:[BLK,'url(#hk)'],bw:26,err:0.3,sig:[[0,1,1242,'<tspan font-style="italic">P</tspan> &lt; 0.001']],yl:['OT-II T'+'<tspan baseline-shift="sub" font-size="8">FH</tspan>'+' cells (%)'],yo:32});
bars({n:'o-bar-count',x:1040,w:80,yt:1230,yb:1355,max:3,ticks:[0,1,2,3],vals:oBar2,fills:[BLK,'url(#hk)'],bw:26,err:0.35,sig:[[0,1,1230,'<tspan font-style="italic">P</tspan> = 0.005']],yl:['No. of OT-II T'+'<tspan baseline-shift="sub" font-size="8">FH</tspan>'+' cells','(×10³ per 10⁶ cells)'],yo:38});

// ---------- PANELS p-t ----------
letter('p',5,1420);letter('q',165,1420);letter('r',335,1420);letter('s',520,1420);letter('t',710,1420);
bars({n:'p-bar',x:70,w:80,yt:1440,yb:1555,max:4,ticks:[0,1,2,3,4],vals:pBar,fills:[BLK,'url(#hk)'],bw:26,err:0.3,sig:[[0,1,1428,'<tspan font-style="italic">P</tspan> &lt; 0.001']],yl:['B'+'<tspan baseline-shift="sub" font-size="8">GC</tspan>'+' cells in B cells (%)'],yo:28});
bars({n:'q-bar',x:230,w:80,yt:1440,yb:1555,max:5,ticks:[0,1,2,3,4,5],vals:qBar,fills:[BLK,'url(#hk)'],bw:26,err:0.4,sig:[[0,1,1440,'<tspan font-style="italic">P</tspan> &lt; 0.001']],yl:['No. of B'+'<tspan baseline-shift="sub" font-size="8">ASC</tspan>'+' cells','(×10² per 10⁶ cells)'],yo:40});
bars({n:'r-bar',x:412,w:135,yt:1420,yb:1555,max:8000,ticks:[0,2000,4000,6000,8000],vals:rBar,fills:[RED,BLU,'url(#hr)','url(#hb)'],bw:24,err:0.12,sig:[[0,1,1420,'<tspan font-style="italic">P</tspan> &lt; 0.001'],[2,3,1420,'NS']],yl:['Lipid ROS in','OT-II T'+'<tspan baseline-shift="sub" font-size="8">FH</tspan>'+' cells (GMFI)'],yo:55,xl:['×0.8','×1.0']});
bars({n:'s-bar',x:590,w:135,yt:1420,yb:1555,max:40,ticks:[0,10,20,30,40],vals:sBar,fills:[RED,BLU,'url(#hr)','url(#hb)'],bw:24,err:0.2,sig:[[0,1,1420,'<tspan font-style="italic">P</tspan> &lt; 0.001'],[2,3,1420,'NS']],yl:['OT-II T'+'<tspan baseline-shift="sub" font-size="8">FH</tspan>'+' cells (%)'],yo:30,xl:['×1.5','×1.1']});
bars({n:'t-bar',x:782,w:135,yt:1420,yb:1555,max:6,ticks:[0,2,4,6],vals:tBar,fills:[RED,BLU,'url(#hr)','url(#hb)'],bw:24,err:0.15,sig:[[0,1,1420,'<tspan font-style="italic">P</tspan> &lt; 0.001'],[2,3,1420,'NS']],yl:['B'+'<tspan baseline-shift="sub" font-size="8">GC</tspan>'+' cells in B cells (%)'],yo:28,xl:['×1.5','×1.1']});
[['SF-NIH31, ACSL4<tspan baseline-shift="super" font-size="8">WT</tspan>',RED],['SF-AIN93G, ACSL4<tspan baseline-shift="super" font-size="8">WT</tspan>',BLU],['SF-NIH31, ACSL4<tspan baseline-shift="super" font-size="8">KO</tspan>','url(#hr)'],['SF-AIN93G, ACSL4<tspan baseline-shift="super" font-size="8">KO</tspan>','url(#hb)']].forEach((g,i)=>{
  const y=1418+i*25;el('rect',{x:922,y:y,width:26,height:20,fill:g[1],stroke:'#000'},'legend-swatch');el('circle',{cx:935,cy:y+10,r:5,fill:'#fff',stroke:'#000'},'legend-dot');
  T(956,y+14,g[0],'legend-label',{fs:11.5});});
</script>
</body></html>
